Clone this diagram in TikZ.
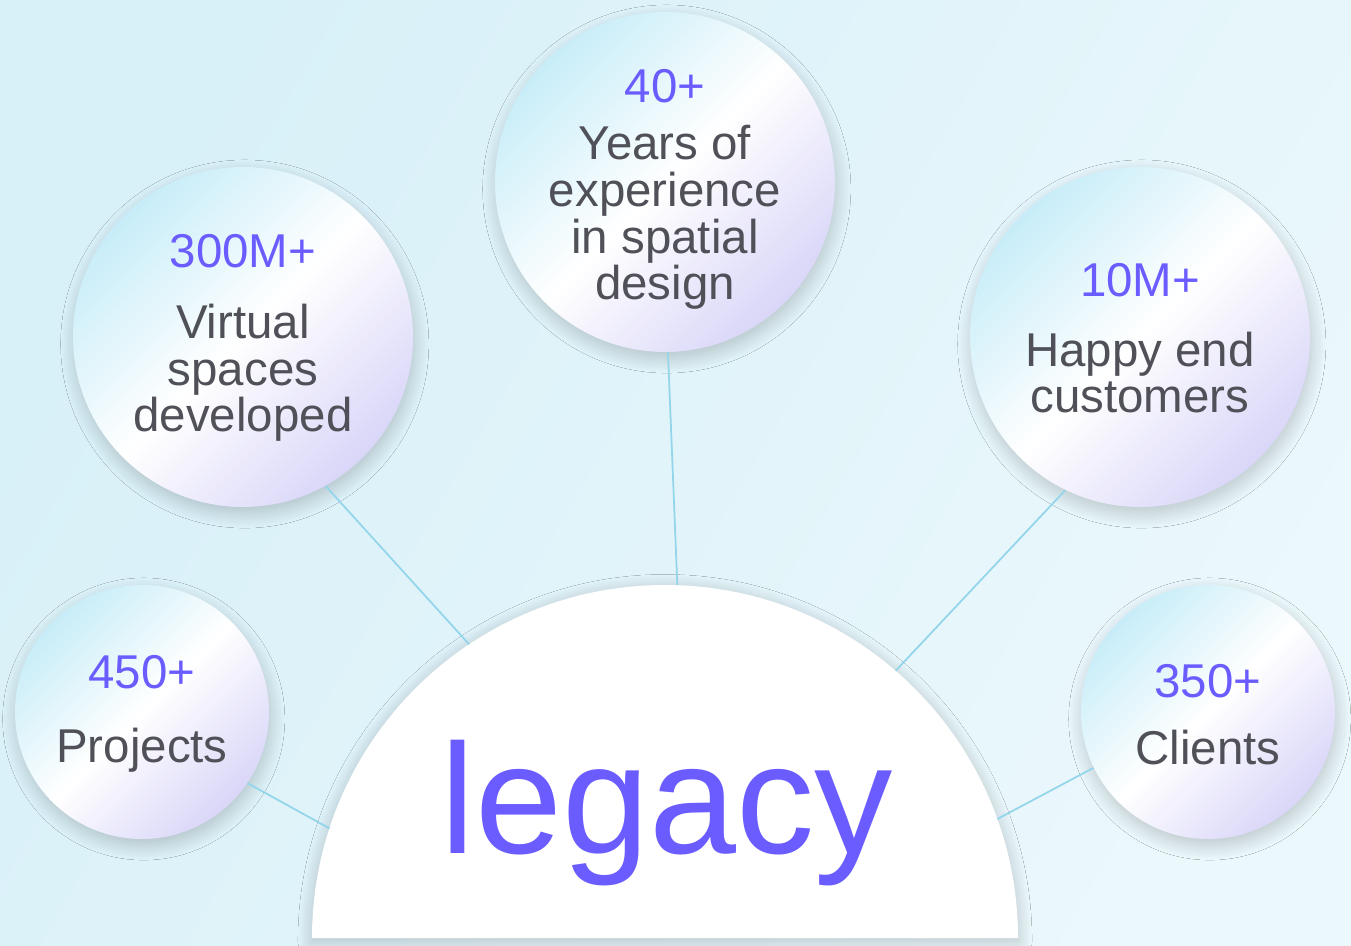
\documentclass[tikz,border=0pt]{standalone}
\usepackage{fontspec}
\setmainfont{Liberation Sans}
\usetikzlibrary{shadows.blur,calc}
\definecolor{numcol}{HTML}{6A5CFF}
\definecolor{txtcol}{HTML}{505058}
\definecolor{linkcol}{HTML}{93D5EA}
\definecolor{bgcyan}{HTML}{D8F0F8}
\definecolor{bglight}{HTML}{EBF8FC}
\definecolor{bubcyan}{HTML}{C8EDF8}
\definecolor{bublav}{HTML}{D9D6F8}

\begin{document}
\begin{tikzpicture}[
  bubble/.style={circle,minimum size=#1,inner sep=0pt,
    top color=bubcyan,bottom color=bublav,middle color=white,shading angle=45,
    blur shadow={shadow xshift=1pt,shadow yshift=-4pt,shadow blur radius=8pt,shadow blur steps=20,shadow opacity=20}},
  numtext/.style={font=\fontsize{27}{27}\selectfont,text=numcol,anchor=base},
  labeltext/.style={font=\fontsize{27}{26.7}\selectfont,text=txtcol,align=center,anchor=base},
  link/.style={draw=linkcol,line width=1pt}]

  % background
  \useasboundingbox (0,0) rectangle (27.02,18.9);
  \shade[left color=bgcyan,right color=bglight,shading angle=60] (0,0) rectangle (27.02,18.9);

  % the half disc
  \coordinate (hub) at (13.3,0.14);
  \fill[white,blur shadow={shadow xshift=0pt,shadow yshift=-2pt,shadow blur radius=8pt,shadow blur steps=20,shadow opacity=22}]
    ($(hub)+(-7.06,0)$) arc[start angle=180,end angle=0,radius=7.06] -- cycle;
  \node[font=\fontsize{89}{89}\selectfont,text=numcol,anchor=base] (legacy) at (13.34,1.84) {legacy};

  % bubbles
  \node[bubble=6.8cm] (years) at (13.3,15.26) {};
  \node[bubble=6.8cm] (spaces) at (4.86,12.16) {};
  \node[bubble=6.8cm] (happy) at (22.8,12.16) {};
  \node[bubble=5.08cm] (projects) at (2.84,4.66) {};
  \node[bubble=5.08cm] (clients) at (24.16,4.66) {};

  % end points on the arc
  \coordinate (a1) at ($(hub)+(88:7.06)$);
  \coordinate (a2) at ($(hub)+(123.7:7.06)$);
  \coordinate (a3) at ($(hub)+(49.2:7.06)$);
  \coordinate (a4) at ($(hub)+(161.9:7.06)$);
  \coordinate (a5) at ($(hub)+(19.7:7.06)$);

  \path[link] (years.-89) -- (a1)
    (spaces.-61.3) -- (a2)
    (happy.-116.7) -- (a3)
    (projects.-34.8) -- (a4)
    (clients.-154.4) -- (a5);

  % texts (multi-line ones sit on their last line)
  \node[numtext] (n1) at (13.3,16.84) {40+};
  \node[labeltext] (t1) at (13.3,12.9) {Years of\\experience\\in spatial\\design};
  \node[numtext] (n2) at (4.86,13.54) {300M+};
  \node[labeltext] (t2) at (4.86,10.26) {Virtual\\spaces\\developed};
  \node[numtext] (n3) at (22.8,12.96) {10M+};
  \node[labeltext] (t3) at (22.8,10.64) {Happy end\\customers};
  \node[numtext] (n4) at (2.84,5.14) {450+};
  \node[labeltext] (t4) at (2.84,3.66) {Projects};
  \node[numtext] (n5) at (24.16,4.96) {350+};
  \node[labeltext] (t5) at (24.16,3.62) {Clients};
\end{tikzpicture}
\end{document}
